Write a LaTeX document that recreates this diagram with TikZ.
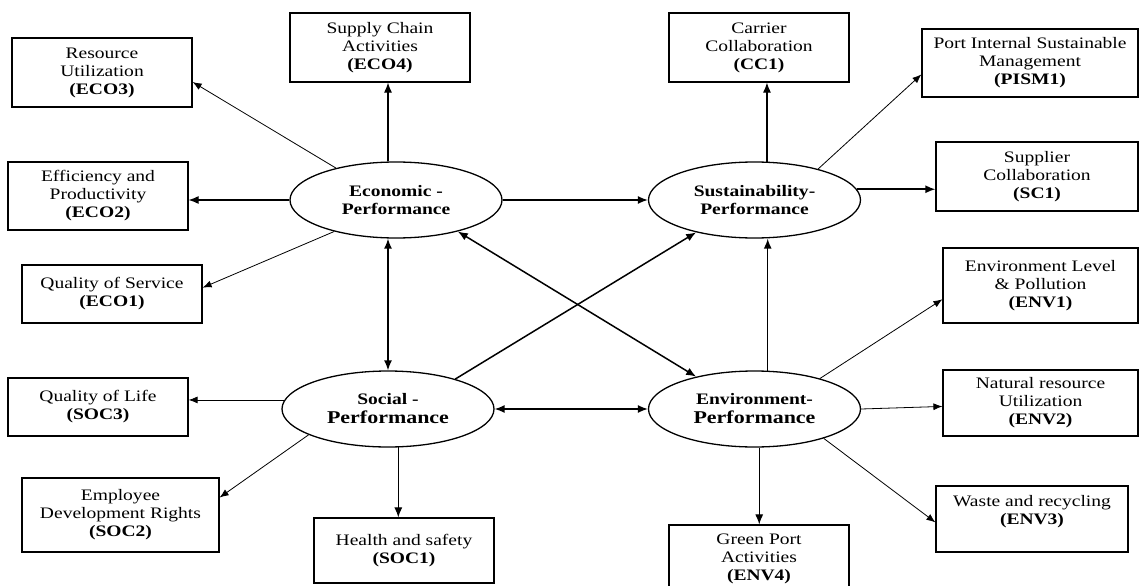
\documentclass[tikz,border=0pt]{standalone}
\usepackage{fontspec}
\setmainfont{Liberation Serif}[FakeStretch=1.22]
\usetikzlibrary{arrows.meta,shapes.geometric,calc}
\begin{document}
\begin{tikzpicture}[x=1pt,y=-1pt,
 box/.style={draw, line width=1.2pt, rectangle, inner sep=0pt, align=center, font=\fontsize{16}{18}\selectfont},
 latent/.style={draw, line width=1.3pt, ellipse, minimum width=212pt, minimum height=76pt, inner sep=0pt, align=center, font=\fontsize{16}{18}\selectfont\bfseries},
 thinarr/.style={line width=0.8pt, -{Latex[length=9pt,width=7pt]}},
 midarr/.style={line width=1.1pt, -{Latex[length=10pt,width=8pt]}},
 thickarr/.style={line width=1.5pt, -{Latex[length=10pt,width=8pt]}},
 botharr/.style={line width=1.5pt, {Latex[length=10pt,width=8pt]}-{Latex[length=10pt,width=8pt]}},
]
\fill[white] (0,0) rectangle (1140,586);
\useasboundingbox (0,0) rectangle (1140,586);

% latent constructs
\node[latent] (eco) at (396,200) {Economic -\\Performance};
\node[latent] (sust) at (754.5,200) {Sustainability-\\Performance};
\node[latent] (soc) at (388,409) {Social -\\[1pt]{\fontsize{18}{18}\selectfont Performance}};
\node[latent] (env) at (754.5,409) {Environment-\\[1pt]{\fontsize{18}{18}\selectfont Performance}};

% indicator boxes
\node[box, minimum width=180pt, minimum height=69pt] (ECO3) at (102,72.5) {Resource\\Utilization\\\textbf{(ECO3)}};
\node[box, minimum width=180pt, minimum height=69pt] (ECO4) at (380,47.5) {Supply Chain\\Activities\\\textbf{(ECO4)}};
\node[box, minimum width=180pt, minimum height=68pt] (ECO2) at (98,196) {Efficiency and\\Productivity\\\textbf{(ECO2)}};
\node[box, minimum width=180pt, minimum height=58pt] (ECO1) at (112,294) {Quality of Service\\\textbf{(ECO1)}};
\node[box, minimum width=180pt, minimum height=69pt] (CC1) at (759,47.5) {Carrier\\Collaboration\\\textbf{(CC1)}};
\node[box, minimum width=216pt, minimum height=68pt] (PISM1) at (1030,63) {Port Internal Sustainable\\Management\\\textbf{(PISM1)}};
\node[box, minimum width=202pt, minimum height=69pt] (SC1) at (1037,176.5) {Supplier\\Collaboration\\\textbf{(SC1)}};
\node[box, minimum width=195pt, minimum height=75pt] (ENV1) at (1040.5,285.5) {Environment Level\\\& Pollution\\\textbf{(ENV1)}};
\node[box, minimum width=195pt, minimum height=66pt] (ENV2) at (1040.5,403) {Natural resource\\Utilization\\\textbf{(ENV2)}};
\node[box, minimum width=192pt, minimum height=66pt] (ENV3) at (1032,519) {Waste and recycling\\\textbf{(ENV3)}\\\mbox{}};
\node[box, minimum width=180pt, minimum height=68pt] (ENV4) at (759,559) {Green Port\\Activities\\\textbf{(ENV4)}};
\node[box, minimum width=180pt, minimum height=58pt] (SOC3) at (98,407) {Quality of Life\\\textbf{(SOC3)}};
\node[box, minimum width=197pt, minimum height=74pt] (SOC2) at (120.5,515) {Employee\\Development Rights\\\textbf{(SOC2)}};
\node[box, minimum width=180pt, minimum height=65pt] (SOC1) at (404,550.5) {Health and safety\\\textbf{(SOC1)}};

% economic indicators
\draw[thinarr] (eco.152) -- (ECO3.-6);
\draw[midarr] (eco.north -| soc.north) -- (ECO4.south -| soc.north);
\draw[midarr] (eco.west) -- (eco.west -| ECO2.east);
\draw[thinarr] (eco.207) -- (ECO1.4);

% sustainability indicators
\draw[midarr] (sust.72) -- (sust.72 |- CC1.south);
\draw[thinarr] (sust.26) -- (PISM1.186);
\draw[thickarr] (sust.6) -- (sust.6 -| SC1.west);

% social indicators
\draw[thinarr] (soc.175) -- (soc.175 -| SOC3.east);
\draw[thinarr] (soc.198) -- (SOC2.10);
\draw[midarr] (soc.-75) -- (soc.-75 |- SOC1.north);

% environment indicators
\draw[thinarr] (env.25) -- (ENV1.188);
\draw[thinarr] (env.east) -- (ENV2.182);
\draw[thinarr] (env.-23) -- (ENV3.182);
\draw[midarr] (env.-83) -- (env.-83 |- ENV4.north);

% structural paths
\draw[thickarr] (eco.east) -- (sust.west);
\draw[botharr] (eco.south -| soc.north) -- (soc.north);
\draw[botharr] (eco.-27) -- (env.151);
\draw[thickarr] (soc.24) -- (sust.209);
\draw[thickarr] (env.71) -- (env.71 |- sust.south);
\draw[botharr] (soc.east) -- (env.west);
\end{tikzpicture}
\end{document}
